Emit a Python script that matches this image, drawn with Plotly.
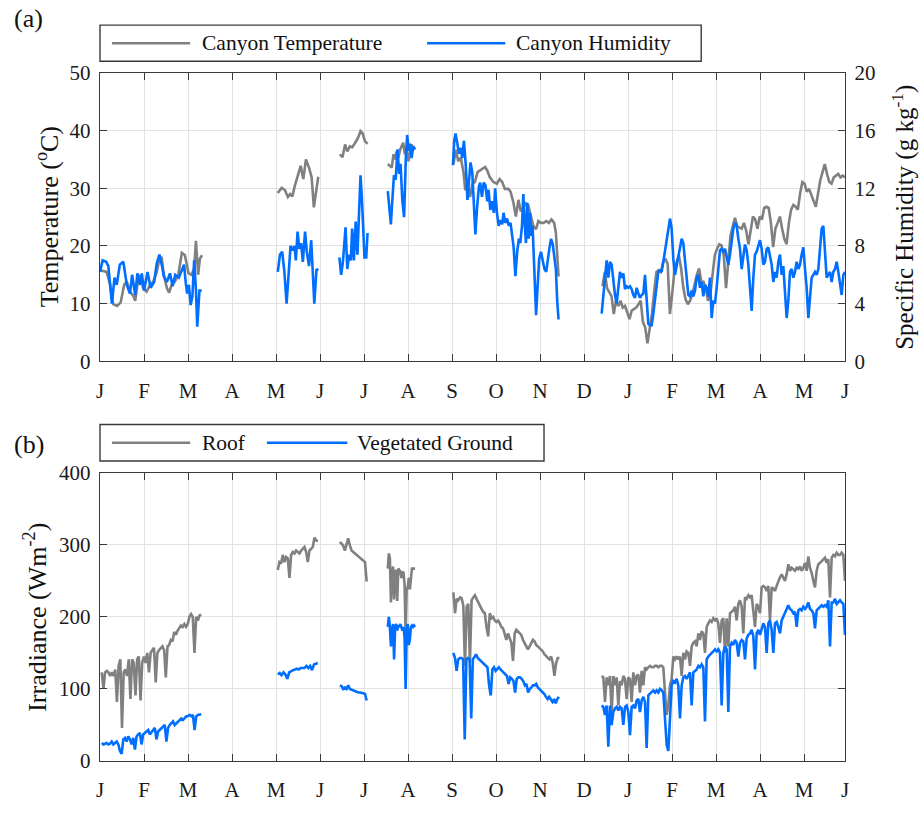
import numpy as np
import plotly.graph_objects as go

# ---------------- axis labels ----------------
MONTH_LABELS = ["J", "F", "M", "A", "M", "J", "J", "A", "S", "O", "N", "D",
                "J", "F", "M", "A", "M", "J"]
MONTH_TICKS = list(range(17)) + [16.93]
X_END = 16.93

# ---------------- (a) Canyon temperature (deg C), x in months from 1 Jan ----------------
temp1_m = [0.00, 0.15, 0.23, 0.30, 0.39, 0.47, 0.55, 0.61, 0.68, 0.76, 0.80, 0.85, 0.91, 0.98, 1.06,
           1.14, 1.21, 1.29, 1.35, 1.40, 1.45, 1.52, 1.57, 1.63, 1.70, 1.78, 1.86, 1.93, 2.01, 2.08,
           2.14, 2.18, 2.23, 2.27, 2.32]
temp1 = [15.8, 15.5, 13.3, 9.9, 9.6, 10.2, 13.3, 13.8, 12.1, 11.3, 10.5, 13.3, 15.0, 12.7, 12.1,
         13.3, 13.8, 15.5, 17.8, 18.1, 15.0, 12.7, 11.9, 13.3, 13.8, 15.0, 18.8, 18.4, 15.3, 15.0,
         16.1, 20.9, 15.0, 17.8, 18.4]
temp2_m = [4.04, 4.13, 4.20, 4.27, 4.32, 4.37, 4.43, 4.51, 4.56, 4.62, 4.68, 4.75, 4.81, 4.86, 4.91, 4.96]
temp2 = [29.2, 30.1, 29.7, 28.5, 29.0, 28.6, 30.5, 32.5, 33.9, 31.6, 35.0, 33.6, 31.9, 26.7, 29.7, 32.0]
temp3_m = [5.45, 5.51, 5.57, 5.62, 5.68, 5.73, 5.80, 5.86, 5.92, 5.97, 6.02, 6.08]
temp3 = [35.9, 35.4, 37.6, 36.4, 37.3, 37.1, 37.9, 38.7, 39.9, 39.5, 38.2, 37.7]
temp4_m = [6.54, 6.59, 6.63, 6.67, 6.70, 6.74, 6.78, 6.82, 6.86, 6.89, 6.93, 6.97, 7.01, 7.05, 7.08,
           7.12, 7.16]
temp4 = [34.2, 33.9, 33.6, 35.9, 35.0, 36.4, 35.3, 36.7, 37.6, 37.9, 35.9, 36.7, 34.7, 36.4, 37.6,
         37.0, 36.7]
temp5_m = [8.03, 8.09, 8.14, 8.20, 8.26, 8.30, 8.35, 8.41, 8.46, 8.52, 8.58, 8.64, 8.70, 8.75, 8.80,
           8.86, 8.94, 9.02, 9.08, 9.14, 9.20, 9.28, 9.33, 9.39, 9.45, 9.51, 9.56, 9.62, 9.68, 9.73,
           9.79, 9.85, 9.91, 9.96, 10.02, 10.08, 10.14, 10.20, 10.26, 10.32, 10.36, 10.39, 10.42]
temp5 = [34.2, 36.7, 34.7, 35.3, 32.8, 29.7, 30.8, 28.5, 30.8, 31.1, 32.8, 33.1, 33.3, 33.7, 33.1,
         31.9, 31.1, 30.8, 31.6, 31.1, 29.9, 29.9, 29.4, 27.7, 25.1, 28.0, 26.0, 26.6, 27.4, 27.1,
         25.1, 23.4, 22.9, 24.3, 24.0, 24.0, 24.3, 24.0, 24.6, 24.0, 22.3, 18.4, 14.7]
temp6_range = [11.42, 16.93]
temp6 = [13.0, 15.5, 12.7, 11.9, 11.3, 8.2, 10.5, 9.6, 10.5, 9.3, 9.6, 8.5, 7.3, 8.8, 9.0, 9.3, 9.9,
         10.5, 6.8, 5.9, 3.1, 5.3, 8.2, 12.1, 15.5, 15.8, 15.5, 17.2, 17.8, 16.9, 8.2, 11.6, 15.5,
         17.2, 18.4, 16.1, 12.7, 10.7, 9.9, 10.5, 11.6, 13.3, 15.0, 16.1, 13.8, 13.8, 12.7, 10.5,
         11.6, 15.0, 18.4, 19.5, 20.3, 20.1, 18.4, 12.7, 17.2, 21.8, 23.4, 24.9, 23.4, 23.2, 23.0,
         24.0, 22.6, 20.3, 23.0, 25.1, 24.6, 23.0, 25.1, 24.6, 26.6, 26.8, 26.6, 24.0, 19.8, 23.0,
         24.0, 25.1, 23.0, 21.2, 20.3, 24.0, 26.3, 27.1, 26.8, 26.3, 29.1, 31.1, 30.8, 29.4, 29.9,
         28.8, 27.7, 26.8, 29.1, 31.4, 32.8, 34.2, 32.5, 31.1, 30.8, 31.9, 32.2, 32.5, 31.9, 32.2, 31.9]

# ---------------- (a) Canyon specific humidity (g/kg) ----------------
hum1_m = [0.00, 0.06, 0.14, 0.19, 0.27, 0.33, 0.38, 0.45, 0.53, 0.61, 0.68, 0.73, 0.80, 0.85, 0.91,
          0.95, 1.00, 1.08, 1.15, 1.23, 1.29, 1.35, 1.41, 1.45, 1.52, 1.59, 1.65, 1.71, 1.79, 1.86,
          1.91, 1.95, 1.98, 2.02, 2.06, 2.10, 2.14, 2.18, 2.21, 2.26, 2.31]
hum1 = [6.2, 7.0, 6.9, 6.6, 4.0, 5.8, 5.3, 6.7, 6.9, 5.3, 4.7, 6.0, 4.6, 6.1, 5.3, 6.1, 4.9, 6.2, 5.1,
        5.5, 6.8, 7.4, 6.6, 5.9, 5.5, 6.1, 5.2, 6.0, 5.8, 6.3, 6.7, 5.4, 4.7, 5.3, 3.9, 4.5, 7.0, 5.0,
        2.4, 4.9, 4.9]
hum2_m = [4.04, 4.09, 4.14, 4.19, 4.24, 4.30, 4.33, 4.38, 4.42, 4.45, 4.49, 4.53, 4.57, 4.61, 4.66,
          4.70, 4.75, 4.80, 4.83, 4.87, 4.92, 4.96]
hum2 = [6.2, 7.4, 7.6, 6.2, 4.0, 6.7, 8.0, 7.7, 8.0, 7.0, 9.0, 7.8, 8.2, 6.9, 9.0, 7.6, 6.6, 8.4, 6.4,
        4.0, 6.4, 6.3]
hum3_m = [5.44, 5.48, 5.52, 5.55, 5.58, 5.62, 5.66, 5.70, 5.73, 5.77, 5.81, 5.85, 5.89, 5.92, 5.95,
          5.98, 6.01, 6.05, 6.08]
hum3 = [7.2, 6.0, 6.9, 7.9, 9.3, 6.4, 7.4, 7.0, 9.2, 7.0, 9.7, 7.4, 10.0, 12.9, 11.4, 9.4, 7.2, 7.2, 8.9]
hum4_m = [6.54, 6.58, 6.61, 6.64, 6.68, 6.72, 6.76, 6.80, 6.83, 6.87, 6.91, 6.95, 6.98, 7.02, 7.05,
          7.08, 7.12, 7.16]
hum4 = [11.8, 10.5, 9.5, 11.0, 12.9, 12.6, 14.7, 13.0, 13.7, 11.2, 10.0, 14.1, 15.7, 14.6, 15.1, 14.1,
        14.9, 14.7]
hum5_m = [8.02, 8.05, 8.08, 8.12, 8.16, 8.20, 8.23, 8.27, 8.31, 8.35, 8.39, 8.42, 8.46, 8.50, 8.53,
          8.57, 8.61, 8.64, 8.68, 8.72, 8.76, 8.80, 8.83, 8.87, 8.91, 8.95, 8.98, 9.02, 9.06, 9.10,
          9.14, 9.17, 9.21, 9.25, 9.29, 9.33, 9.36, 9.40, 9.44, 9.48, 9.52, 9.55, 9.59, 9.62, 9.65,
          9.68, 9.71, 9.74, 9.77, 9.80, 9.83, 9.87, 9.91, 9.95, 9.98, 10.02, 10.06, 10.10, 10.14,
          10.17, 10.21, 10.25, 10.29, 10.33, 10.36, 10.39, 10.42]
hum5 = [13.6, 15.3, 15.8, 15.1, 14.4, 14.8, 14.1, 15.3, 13.7, 11.2, 12.9, 13.8, 13.1, 10.7, 8.8, 10.7,
        12.1, 12.4, 11.4, 12.4, 12.2, 11.1, 11.9, 10.5, 11.1, 10.3, 12.0, 10.3, 9.4, 9.8, 9.5, 10.3,
        9.6, 9.9, 9.4, 9.6, 8.7, 7.9, 5.9, 7.6, 8.5, 8.2, 9.4, 11.6, 9.6, 8.2, 11.0, 8.5, 10.3, 8.7,
        9.4, 6.0, 3.2, 5.5, 7.1, 7.6, 6.9, 6.4, 6.2, 7.0, 7.8, 8.5, 8.1, 7.1, 6.4, 4.2, 2.9]
hum6_range = [11.40, 16.93]
hum6 = [3.3, 4.6, 6.0, 7.0, 5.8, 6.9, 6.7, 5.5, 4.6, 4.0, 5.3, 6.2, 5.8, 6.1, 5.0, 5.2, 5.1, 5.2, 5.0,
        4.6, 4.4, 5.1, 4.7, 4.4, 4.6, 4.7, 6.0, 4.2, 2.6, 2.5, 2.5, 3.3, 4.2, 5.3, 6.2, 6.3, 6.2, 6.9,
        7.6, 8.4, 9.2, 9.9, 9.2, 7.1, 6.0, 6.7, 7.4, 8.0, 8.5, 8.2, 6.9, 5.8, 4.6, 4.5, 4.9, 4.5, 4.9,
        5.8, 6.0, 5.1, 5.5, 4.5, 5.3, 5.1, 4.5, 5.8, 3.0, 4.2, 4.0, 5.1, 6.7, 7.7, 7.8, 7.6, 7.8, 7.1,
        6.7, 7.4, 8.5, 9.2, 9.6, 9.4, 8.5, 7.8, 6.4, 7.4, 8.1, 7.7, 6.7, 5.1, 3.5, 5.8, 7.4, 7.6, 8.0,
        8.4, 7.8, 6.7, 6.9, 7.8, 7.9, 7.4, 6.7, 5.5, 6.2, 5.8, 6.9, 7.4, 6.0, 6.6, 5.1, 3.0, 4.2, 6.2,
        6.4, 5.8, 6.2, 6.9, 6.4, 6.7, 7.4, 7.9, 6.4, 5.1, 3.0, 4.4, 5.8, 6.0, 6.2, 6.0, 6.4, 7.8, 9.2,
        9.4, 7.4, 5.8, 6.0, 6.2, 5.5, 6.2, 6.4, 6.9, 6.2, 5.5, 4.6, 6.0, 6.2]

# ---------------- (b) Irradiance (W m-2), daily samples between start/end month ----------------
roof1_range = [0.04, 2.30]
roof1 = [123, 100, 123, 125, 123, 118, 123, 118, 127, 82, 132, 141, 46, 123, 127, 118, 141, 86, 141,
         136, 91, 141, 145, 84, 136, 145, 136, 150, 123, 150, 154, 157, 109, 150, 154, 157, 159, 154,
         116, 159, 161, 168, 166, 179, 175, 181, 184, 188, 186, 190, 186, 190, 200, 204, 200, 150,
         200, 195, 202, 203]
roof2_range = [4.04, 4.95]
roof2 = [265, 276, 274, 286, 276, 283, 281, 254, 286, 290, 288, 292, 290, 288, 292, 295, 297, 290,
         276, 292, 295, 297, 310, 306, 305]
roof3_range = [5.45, 6.06]
roof3 = [304, 301, 299, 292, 301, 309, 299, 292, 290, 288, 286, 285, 283, 281, 279, 276, 249]
roof4_range = [6.54, 7.16]
roof4 = [267, 288, 281, 220, 258, 270, 224, 263, 265, 222, 267, 265, 263, 254, 263, 261, 245, 175,
         240, 240, 254, 238, 258, 267, 267, 267, 267]
roof5_range = [8.03, 10.44]
roof5 = [234, 205, 225, 223, 227, 226, 216, 132, 214, 218, 136, 223, 227, 230, 225, 220, 214, 211,
         207, 205, 186, 173, 205, 198, 200, 195, 193, 195, 191, 186, 184, 177, 168, 177, 170, 164,
         139, 177, 182, 180, 177, 175, 168, 164, 159, 155, 159, 164, 168, 166, 161, 159, 157, 155,
         152, 148, 145, 143, 141, 145, 136, 118, 136, 143, 143]
roof6_range = [11.40, 16.93]
roof6 = [118, 116, 82, 116, 105, 118, 68, 118, 105, 116, 77, 111, 105, 118, 114, 86, 116, 114, 82,
         123, 105, 118, 120, 95, 125, 105, 130, 127, 130, 132, 130, 130, 132, 132, 130, 132, 132,
         130, 95, 64, 77, 105, 114, 145, 141, 145, 141, 145, 118, 150, 141, 152, 150, 132, 159, 164,
         166, 159, 177, 168, 180, 177, 150, 186, 191, 195, 193, 198, 195, 198, 191, 164, 195, 198,
         150, 198, 159, 205, 207, 209, 214, 195, 218, 223, 214, 177, 227, 225, 230, 227, 230, 205,
         186, 218, 214, 205, 241, 243, 241, 236, 243, 195, 241, 239, 236, 243, 250, 255, 259, 255,
         250, 259, 273, 264, 268, 266, 264, 268, 266, 270, 264, 268, 275, 264, 284, 268, 261, 250,
         241, 264, 273, 275, 277, 280, 282, 275, 280, 227, 282, 286, 284, 289, 286, 286, 289, 286, 250]

veg1_range = [0.04, 2.30]
veg1 = [25, 23, 24, 25, 23, 24, 27, 23, 25, 27, 23, 14, 10, 30, 32, 27, 34, 30, 23, 32, 16, 34, 37,
        39, 23, 37, 39, 41, 43, 37, 41, 43, 46, 30, 41, 43, 46, 48, 50, 27, 46, 50, 52, 55, 50, 52,
        55, 57, 59, 57, 59, 62, 62, 64, 62, 64, 43, 62, 64, 65, 65]
veg2_range = [4.04, 4.95]
veg2 = [120, 122, 119, 123, 120, 114, 123, 125, 126, 127, 128, 127, 129, 129, 129, 132, 129, 132,
        126, 134, 135, 136]
veg3_range = [5.45, 6.06]
veg3 = [105, 104, 100, 102, 100, 105, 100, 99, 98, 96, 96, 95, 95, 95, 94, 93, 84]
veg4_range = [6.54, 7.16]
veg4 = [186, 200, 186, 159, 181, 190, 141, 186, 190, 181, 188, 186, 190, 186, 181, 186, 172, 100,
        181, 190, 161, 168, 186, 188, 186, 188, 186]
veg5_range = [8.03, 10.43]
veg5 = [150, 143, 125, 141, 143, 143, 141, 30, 141, 143, 141, 59, 141, 145, 148, 143, 141, 139, 136,
        134, 132, 130, 105, 91, 127, 130, 125, 127, 130, 127, 125, 123, 120, 118, 107, 116, 114, 111,
        95, 114, 116, 116, 114, 111, 105, 107, 95, 100, 102, 105, 105, 107, 102, 100, 98, 95, 93, 89,
        86, 89, 86, 82, 86, 80, 86, 89]
veg6_range = [11.40, 16.93]
veg6 = [77, 75, 64, 77, 20, 77, 50, 68, 73, 75, 70, 75, 73, 50, 75, 77, 68, 36, 75, 77, 73, 84, 86,
        68, 84, 89, 82, 18, 91, 93, 95, 98, 95, 98, 95, 100, 98, 95, 59, 23, 14, 59, 105, 111, 109,
        114, 105, 59, 105, 116, 118, 114, 118, 123, 77, 123, 125, 127, 132, 130, 134, 130, 55, 141,
        145, 148, 150, 152, 155, 152, 155, 150, 77, 150, 159, 155, 68, 159, 164, 161, 168, 164, 145,
        164, 168, 166, 141, 170, 175, 177, 182, 173, 127, 177, 182, 175, 182, 191, 186, 150, 191, 195,
        182, 150, 191, 193, 186, 177, 195, 200, 205, 209, 216, 211, 209, 205, 207, 186, 209, 211, 209,
        214, 211, 214, 220, 211, 209, 205, 184, 209, 211, 214, 216, 214, 216, 214, 223, 159, 220, 220,
        225, 218, 220, 223, 220, 218, 175]


def sampled(rng, vals):
    return list(np.linspace(rng[0], rng[1], len(vals))), list(vals)


def join(segments):
    xs, ys = [], []
    for x, y in segments:
        n = min(len(x), len(y))
        xs += list(x[:n]) + [None]
        ys += list(y[:n]) + [None]
    return xs, ys


tx, ty = join([(temp1_m, temp1), (temp2_m, temp2), (temp3_m, temp3), (temp4_m, temp4),
               (temp5_m, temp5), sampled(temp6_range, temp6)])
hx, hy = join([(hum1_m, hum1), (hum2_m, hum2), (hum3_m, hum3), (hum4_m, hum4),
               (hum5_m, hum5), sampled(hum6_range, hum6)])
rx, ry = join([sampled(roof1_range, roof1), sampled(roof2_range, roof2), sampled(roof3_range, roof3),
               sampled(roof4_range, roof4), sampled(roof5_range, roof5), sampled(roof6_range, roof6)])
vx, vy = join([sampled(veg1_range, veg1), sampled(veg2_range, veg2), sampled(veg3_range, veg3),
               sampled(veg4_range, veg4), sampled(veg5_range, veg5), sampled(veg6_range, veg6)])

GRAY = "#808080"
BLUE = "#006EFF"
LW = 2.6
FONT = "Liberation Serif, Times New Roman, serif"

fig = go.Figure()
fig.add_trace(go.Scatter(x=tx, y=ty, mode="lines", line=dict(color=GRAY, width=LW),
                         name="Canyon Temperature", xaxis="x", yaxis="y", connectgaps=False))
fig.add_trace(go.Scatter(x=hx, y=hy, mode="lines", line=dict(color=BLUE, width=LW),
                         name="Canyon Humidity", xaxis="x", yaxis="y2", connectgaps=False))
fig.add_trace(go.Scatter(x=rx, y=ry, mode="lines", line=dict(color=GRAY, width=LW),
                         name="Roof", xaxis="x2", yaxis="y3", connectgaps=False))
fig.add_trace(go.Scatter(x=vx, y=vy, mode="lines", line=dict(color=BLUE, width=LW),
                         name="Vegetated Ground", xaxis="x2", yaxis="y3", connectgaps=False))

AXC = "#3a3a3a"
TICKFONT = dict(family=FONT, size=21, color="#1a1a1a")
common = dict(showline=True, linecolor=AXC, linewidth=1.4, ticks="inside", ticklen=7,
              tickcolor=AXC, tickwidth=1.2, zeroline=False, tickfont=TICKFONT)
xcommon = dict(range=[0, X_END], tickmode="array", tickvals=MONTH_TICKS, ticktext=MONTH_LABELS,
               showgrid=True, gridcolor="#e2e2e2", gridwidth=1, mirror="ticks",
               ticklabelstandoff=10, **common)

TOP = [0.581, 1.0]
BOT = [0.0, 0.419]

fig.update_layout(
    width=922, height=814,
    margin=dict(l=100, r=77, t=73, b=37),
    paper_bgcolor="white", plot_bgcolor="white",
    showlegend=False,
    font=dict(family=FONT, color="#111111"),
    xaxis=dict(anchor="y", domain=[0, 1], **xcommon),
    yaxis=dict(domain=TOP, range=[0, 50], tickvals=[0, 10, 20, 30, 40, 50], showgrid=True,
               gridcolor="#e2e2e2", mirror=False, ticklabelstandoff=4, **common),
    yaxis2=dict(overlaying="y", side="right", anchor="x", range=[0, 20],
                tickvals=[0, 4, 8, 12, 16, 20], showgrid=False, ticklabelstandoff=4, **common),
    xaxis2=dict(anchor="y3", domain=[0, 1], **xcommon),
    yaxis3=dict(domain=BOT, range=[0, 400], tickvals=[0, 100, 200, 300, 400], showgrid=True,
                gridcolor="#e2e2e2", mirror="ticks", ticklabelstandoff=4, **common),
)

# ---- legends drawn as boxes with sample lines ----
LEGFONT = dict(family=FONT, size=21.5, color="#111111")
shapes = [
    dict(type="rect", xref="paper", yref="paper", x0=0.0, x1=0.807, y0=1.017, y1=1.0696,
         line=dict(color=AXC, width=1.4), fillcolor="white"),
    dict(type="line", xref="paper", yref="paper", x0=0.016, x1=0.121, y0=1.0433, y1=1.0433,
         line=dict(color=GRAY, width=LW)),
    dict(type="line", xref="paper", yref="paper", x0=0.439, x1=0.544, y0=1.0433, y1=1.0433,
         line=dict(color=BLUE, width=LW)),
    dict(type="rect", xref="paper", yref="paper", x0=0.0, x1=0.596, y0=0.436, y1=0.489,
         line=dict(color=AXC, width=1.4), fillcolor="white"),
    dict(type="line", xref="paper", yref="paper", x0=0.016, x1=0.121, y0=0.4625, y1=0.4625,
         line=dict(color=GRAY, width=LW)),
    dict(type="line", xref="paper", yref="paper", x0=0.224, x1=0.332, y0=0.4625, y1=0.4625,
         line=dict(color=BLUE, width=LW)),
]
fig.update_layout(shapes=shapes)

TITLEFONT = dict(family=FONT, size=26, color="#111111")
ann = [
    dict(text="Canyon Temperature", x=0.134, y=1.0433, xanchor="left", yanchor="middle", font=LEGFONT),
    dict(text="Canyon Humidity", x=0.556, y=1.0433, xanchor="left", yanchor="middle", font=LEGFONT),
    dict(text="Roof", x=0.134, y=0.4625, xanchor="left", yanchor="middle", font=LEGFONT),
    dict(text="Vegetated Ground", x=0.342, y=0.4625, xanchor="left", yanchor="middle", font=LEGFONT),
    dict(text="(a)", x=-0.118, y=1.0795, xanchor="left", yanchor="middle", font=TITLEFONT),
    dict(text="(b)", x=-0.118, y=0.460, xanchor="left", yanchor="middle", font=TITLEFONT),
    dict(text="Temperature (<sup>o</sup>C)", x=-0.071, y=0.7905, textangle=-90,
         xanchor="center", yanchor="middle", font=TITLEFONT),
    dict(text="Specific Humidity (g kg<sup>-1</sup>)", x=1.0775, y=0.7905, textangle=-90,
         xanchor="center", yanchor="middle", font=dict(family=FONT, size=25, color="#111111")),
    dict(text="Irradiance (Wm<sup>-2</sup>)", x=-0.086, y=0.2095, textangle=-90,
         xanchor="center", yanchor="middle", font=TITLEFONT),
]
for a in ann:
    a.update(xref="paper", yref="paper", showarrow=False)
fig.update_layout(annotations=ann)

fig.write_html("out.html")
